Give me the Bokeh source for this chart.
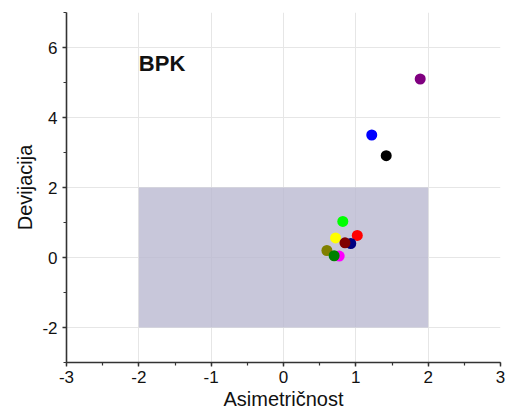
from bokeh.plotting import figure
from bokeh.models import SingleIntervalTicker, Range1d, CustomJSTickFormatter
from bokeh.core.properties import value
from bokeh.embed import file_html
from bokeh.resources import INLINE

# Skewness / deviation pairs per sample
asimetricnost = [1.89, 1.22, 1.42, 0.82, 1.02, 0.72, 0.93, 0.85, 0.60, 0.77, 0.70]
devijacija = [5.10, 3.50, 2.91, 1.03, 0.63, 0.56, 0.40, 0.42, 0.20, 0.04, 0.05]
boje = ["#800080", "#0000ff", "#000000", "#00ff00", "#ff0000", "#ffff00",
        "#000080", "#800000", "#808000", "#ff00ff", "#008000"]

# Acceptance region
oblast_x = [-2, 2]
oblast_y = [-2, 2]

x_ticks_range = (-3, 3)
y_ticks_range = (-3, 7)

FONT = "Liberation Sans"

p = figure(width=507, height=419, output_backend="svg", toolbar_location=None,
           x_range=Range1d(*x_ticks_range), y_range=Range1d(*y_ticks_range),
           min_border_left=66, min_border_right=7, min_border_top=12, min_border_bottom=57)

p.background_fill_color = "white"
p.border_fill_color = "white"
p.outline_line_color = None

p.quad(left=oblast_x[0], right=oblast_x[1], bottom=oblast_y[0], top=oblast_y[1],
       fill_color="#b9b7cf", fill_alpha=0.78, line_color=None)

p.scatter(asimetricnost, devijacija, size=11, fill_color=boje, line_color=None)

p.text(x=[-2.0], y=[5.53], text=["BPK"], text_font=value(FONT), text_font_size="22px",
       text_font_style="bold", text_baseline="middle", text_align="left", text_color="#111111")

p.xaxis.ticker = SingleIntervalTicker(interval=1, num_minor_ticks=2)
p.yaxis.ticker = SingleIntervalTicker(interval=2, num_minor_ticks=2)

# plain hyphen for negative numbers
plain = CustomJSTickFormatter(code="return String(Math.round(tick));")

for ax in (p.xaxis[0], p.yaxis[0]):
    ax.formatter = plain
    ax.axis_line_color = "#333333"
    ax.axis_line_width = 1.6
    ax.major_tick_line_color = "#333333"
    ax.major_tick_line_width = 1.4
    ax.minor_tick_line_color = "#333333"
    ax.minor_tick_line_width = 1.2
    ax.major_tick_out = 4
    ax.major_tick_in = 0
    ax.minor_tick_out = 3
    ax.minor_tick_in = 0
    ax.major_label_text_font = FONT
    ax.major_label_text_font_size = "17px"
    ax.major_label_text_color = "#111111"
    ax.axis_label_text_font = FONT
    ax.axis_label_text_font_size = "20px"
    ax.axis_label_text_font_style = "normal"
    ax.axis_label_text_color = "#111111"

p.xaxis.axis_label = "Asimetričnost"
p.yaxis.axis_label = "Devijacija"
p.xaxis.major_label_standoff = 4
p.yaxis.major_label_standoff = 5
p.xaxis.axis_label_standoff = 2
p.yaxis.axis_label_standoff = 3

p.grid.grid_line_color = "#e6e6e6"
p.grid.grid_line_width = 1

open("out.html", "w").write(file_html(p, INLINE))
